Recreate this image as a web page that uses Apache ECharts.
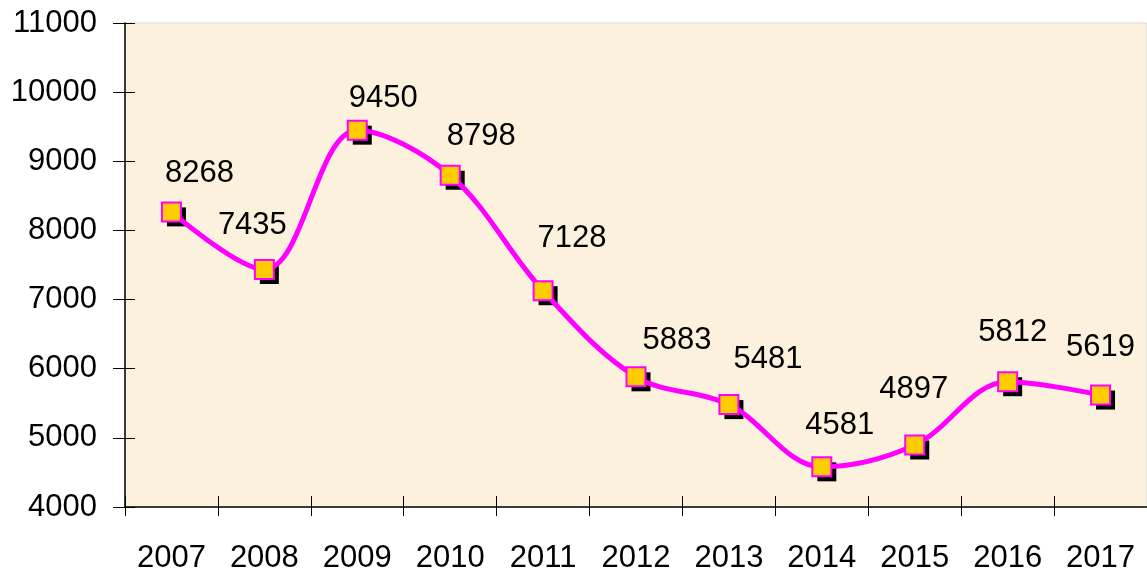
<!DOCTYPE html>
<html>
<head>
<meta charset="UTF-8">
<title>Line chart</title>
<script type="text/javascript" src="https://cdn.jsdelivr.net/npm/echarts@6/dist/echarts.min.js"></script>
<style>
  html, body { margin: 0; padding: 0; background: #fff; }
</style>
</head>
<body>
<div id="main" style="width: 1147px;height:574px;"></div>
<script type="text/javascript">
// data
var years = ['2007', '2008', '2009', '2010', '2011', '2012', '2013', '2014', '2015', '2016', '2017'];
var values = [8268, 7435, 9450, 8798, 7128, 5883, 5481, 4581, 4897, 5812, 5619];
var yTicks = [4000, 5000, 6000, 7000, 8000, 9000, 10000, 11000];

// where each value label sits relative to its marker (px)
var labelOffsets = [[28, -38], [-12, -44], [26, -32], [31, -39], [29, -52], [41, -36],
                    [39, -45], [18, -41], [-1, -56], [5, -49], [0, -48]];

var font = 'Liberation Sans, Arial, sans-serif';

var seriesData = values.map(function (v, i) {
    return {
        value: v,
        label: { offset: labelOffsets[i] }
    };
});

var myChart = echarts.init(document.getElementById('main'));

var option = {
    animation: false,
    grid: {
        left: 125,
        top: 23,
        bottom: 66,
        width: 1029,
        show: true,
        backgroundColor: '#fcf1dc',
        borderColor: '#dddddd',
        borderWidth: 1
    },
    xAxis: [{
        type: 'category',
        data: years,
        boundaryGap: true,
        axisLine: { lineStyle: { color: '#000', width: 1.5 } },
        axisTick: { show: true, length: 9, lineStyle: { color: '#000', width: 1 } },
        axisLabel: { color: '#000', fontSize: 31, fontFamily: font, margin: 36 },
        splitLine: { show: false }
    }, {
        // inner half of the crossing ticks
        type: 'category',
        data: years,
        position: 'bottom',
        boundaryGap: true,
        axisLine: { show: false },
        axisTick: { show: true, inside: true, length: 11, lineStyle: { color: '#000', width: 1 } },
        axisLabel: { show: false },
        splitLine: { show: false }
    }],
    yAxis: [{
        type: 'value',
        min: yTicks[0],
        max: yTicks[yTicks.length - 1],
        interval: 1000,
        axisLine: { show: true, lineStyle: { color: '#000', width: 1.5 } },
        axisTick: { show: true, length: 12, lineStyle: { color: '#000', width: 1 } },
        axisLabel: {
            color: '#000', fontSize: 31, fontFamily: font, margin: 28,
            formatter: function (v) { return String(v); }
        },
        splitLine: { show: false }
    }, {
        type: 'value',
        position: 'left',
        min: yTicks[0],
        max: yTicks[yTicks.length - 1],
        interval: 1000,
        axisLine: { show: false },
        axisTick: { show: true, inside: true, length: 10, lineStyle: { color: '#000', width: 1 } },
        axisLabel: { show: false },
        splitLine: { show: false }
    }],
    series: [{
        // marker shadows
        type: 'line',
        data: values,
        symbol: 'rect',
        symbolSize: 19,
        symbolOffset: [5, 5],
        lineStyle: { width: 0, opacity: 0 },
        itemStyle: { color: '#000' },
        silent: true,
        z: 2
    }, {
        type: 'line',
        data: seriesData,
        smooth: 0.35,
        symbol: 'rect',
        symbolSize: 19,
        lineStyle: { color: '#ff00ff', width: 5 },
        itemStyle: {
            color: '#ffcc00',
            borderColor: '#ff00ff',
            borderWidth: 2
        },
        label: {
            show: true,
            position: 'inside',
            color: '#000',
            fontSize: 31,
            fontFamily: font,
            align: 'center',
            verticalAlign: 'middle'
        },
        z: 5
    }]
};

myChart.setOption(option);
</script>
</body>
</html>
